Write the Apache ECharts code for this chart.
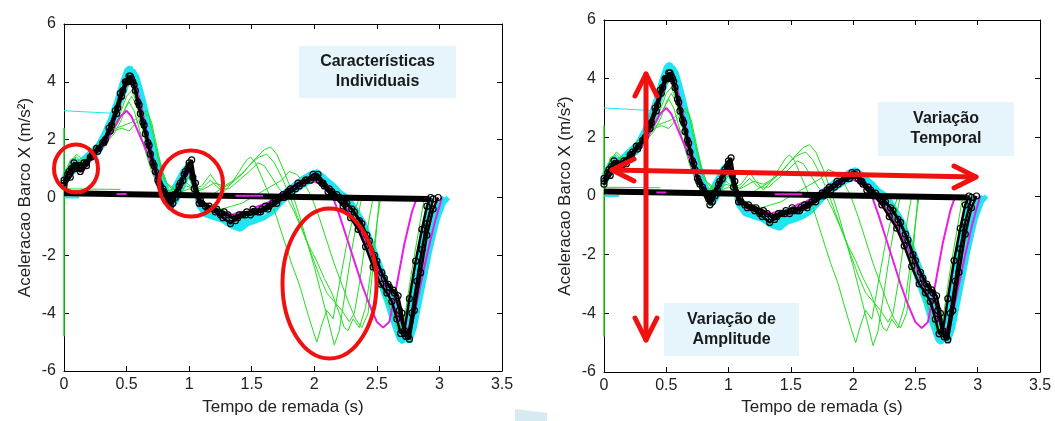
<!DOCTYPE html>
<html>
  <head>
    <title>aceleracao barco</title>
    <script src="https://cdn.jsdelivr.net/npm/echarts@6/dist/echarts.min.js"></script>
  </head>
  <body style="margin:0;background:#fff">
    <div id="main" style="width: 1055px; height: 421px"></div>
    <script>
      // ticks
      var xTicks = [0, 3.5, 0.5];
      var yTicks = [-6, 6, 2];

      // traces (tempo s, aceleracao m/s2)
      var cyan1 = [[0,0.6],[0.04,1.0],[0.08,1.3],[0.12,1.2],[0.17,1.4],[0.22,1.6],[0.27,1.8],[0.32,2.2],[0.37,2.7],[0.42,3.3],[0.46,3.9],[0.5,4.4],[0.53,4.5],[0.57,4.1],[0.61,3.4],[0.65,2.7],[0.69,2.0],[0.73,1.3],[0.77,0.7],[0.81,0.3],[0.85,0.1],[0.9,0.5],[0.95,0.9],[0.99,1.1],[1.03,0.6],[1.07,0.0],[1.12,-0.3],[1.18,-0.5],[1.25,-0.6],[1.32,-0.8],[1.38,-1.0],[1.44,-0.8],[1.5,-0.7],[1.56,-0.6],[1.62,-0.4],[1.68,-0.2],[1.74,0.1],[1.8,0.3],[1.86,0.5],[1.92,0.7],[1.98,0.8],[2.04,0.8],[2.1,0.6],[2.16,0.4],[2.22,0.1],[2.28,-0.3],[2.34,-0.8],[2.4,-1.4],[2.46,-2.1],[2.52,-2.9],[2.58,-3.6],[2.63,-4.3],[2.68,-4.9],[2.71,-5.0],[2.75,-4.2],[2.8,-3.0],[2.85,-1.7],[2.9,-0.6],[2.94,0.0]];
      var cyan2 = [[0,0.4],[0.05,0.8],[0.1,1.0],[0.15,1.1],[0.2,1.3],[0.26,1.5],[0.31,1.8],[0.36,2.2],[0.41,2.8],[0.46,3.4],[0.51,4.0],[0.55,4.4],[0.58,4.2],[0.62,3.6],[0.66,2.9],[0.7,2.1],[0.74,1.4],[0.78,0.8],[0.82,0.3],[0.86,-0.3],[0.9,-0.1],[0.95,0.4],[1.0,0.9],[1.04,0.4],[1.08,-0.3],[1.13,-0.6],[1.2,-0.7],[1.27,-0.8],[1.34,-1.0],[1.41,-1.1],[1.47,-0.9],[1.54,-0.8],[1.6,-0.7],[1.67,-0.5],[1.73,-0.2],[1.8,0.1],[1.87,0.3],[1.94,0.5],[2.0,0.6],[2.07,0.7],[2.13,0.5],[2.2,0.2],[2.27,0.0],[2.33,-0.4],[2.4,-0.9],[2.47,-1.7],[2.54,-2.5],[2.6,-3.2],[2.66,-3.9],[2.72,-4.7],[2.76,-5.0],[2.8,-4.5],[2.86,-3.2],[2.92,-1.9],[2.98,-0.8],[3.03,-0.2],[3.07,0.0]];
      var cyan3 = [[0,0.7],[0.05,1.1],[0.1,1.2],[0.16,1.3],[0.21,1.5],[0.26,1.7],[0.31,2.0],[0.36,2.4],[0.41,3.0],[0.45,3.6],[0.49,4.2],[0.52,4.5],[0.55,4.3],[0.59,3.7],[0.63,3.0],[0.67,2.2],[0.71,1.5],[0.75,0.9],[0.79,0.4],[0.83,0.0],[0.88,0.2],[0.93,0.6],[0.98,1.0],[1.02,0.9],[1.05,0.2],[1.1,-0.4],[1.16,-0.5],[1.23,-0.7],[1.3,-0.6],[1.37,-0.8],[1.43,-0.6],[1.5,-0.5],[1.57,-0.5],[1.63,-0.3],[1.7,-0.1],[1.77,0.2],[1.83,0.4],[1.9,0.6],[1.96,0.8],[2.02,0.9],[2.08,0.7],[2.14,0.3],[2.2,0.0],[2.26,-0.2],[2.32,-0.6],[2.38,-1.1],[2.44,-1.8],[2.5,-2.6],[2.56,-3.3],[2.62,-3.8],[2.68,-4.4],[2.73,-4.9],[2.77,-4.6],[2.82,-3.4],[2.88,-2.0],[2.94,-0.9],[3.0,-0.2],[3.04,0.0]];
      var cyanStart = [[0,3.0],[0.45,2.9]];
      var cyanBase = [[0,0.0],[0.12,0.0]];

      var green1 = [[0,0.5],[0.05,1.3],[0.1,1.4],[0.15,1.2],[0.2,1.5],[0.25,1.8],[0.3,2.0],[0.36,2.2],[0.42,2.4],[0.48,2.5],[0.54,2.6],[0.6,2.8],[0.66,3.0],[0.7,2.6],[0.74,1.8],[0.78,1.0],[0.82,0.5],[0.88,0.3],[0.94,0.2],[1.0,0.3],[1.06,0.2],[1.12,0.3],[1.2,0.5],[1.28,0.4],[1.36,0.6],[1.44,0.9],[1.52,1.3],[1.6,1.65],[1.65,1.75],[1.7,1.5],[1.76,0.9],[1.82,0.2],[1.88,-0.6],[1.94,-1.5],[2.0,-2.4],[2.06,-3.4],[2.12,-4.4],[2.16,-5.1],[2.2,-4.6],[2.25,-3.2],[2.3,-1.8],[2.35,-0.6],[2.38,0.0]];
      var green2 = [[0,0.6],[0.05,1.1],[0.1,1.2],[0.16,1.1],[0.22,1.4],[0.28,1.7],[0.34,2.0],[0.4,2.3],[0.46,2.4],[0.52,2.3],[0.58,2.6],[0.64,2.9],[0.68,2.8],[0.72,2.0],[0.76,1.2],[0.8,0.6],[0.86,0.3],[0.92,0.4],[0.98,0.5],[1.04,0.3],[1.1,0.4],[1.17,0.8],[1.22,0.5],[1.28,0.2],[1.34,0.5],[1.4,0.9],[1.46,1.3],[1.49,1.4],[1.53,1.2],[1.58,0.7],[1.64,0.1],[1.7,-0.7],[1.76,-1.5],[1.82,-2.3],[1.88,-3.0],[1.94,-3.9],[1.99,-4.6],[2.02,-5.0],[2.06,-4.4],[2.1,-3.9],[2.15,-4.2],[2.2,-3.0],[2.26,-1.6],[2.32,-0.5],[2.36,0.0]];
      var green3 = [[0,0.5],[0.06,1.0],[0.12,1.3],[0.18,1.2],[0.24,1.6],[0.3,1.9],[0.36,2.1],[0.42,2.5],[0.48,3.0],[0.52,3.3],[0.56,3.0],[0.6,2.4],[0.65,1.6],[0.7,0.9],[0.75,0.4],[0.8,0.2],[0.86,0.1],[0.92,0.2],[0.98,0.4],[1.04,0.3],[1.1,0.3],[1.17,0.6],[1.24,0.3],[1.32,0.3],[1.4,0.6],[1.48,0.9],[1.55,1.2],[1.6,1.1],[1.66,0.7],[1.72,0.3],[1.78,0.0],[1.84,-0.5],[1.9,-1.1],[1.96,-1.7],[2.02,-2.2],[2.08,-2.8],[2.14,-3.3],[2.2,-4.0],[2.24,-4.5],[2.27,-4.6],[2.31,-4.2],[2.36,-4.5],[2.41,-3.8],[2.46,-2.3],[2.5,-0.9],[2.53,0.0]];
      var green4 = [[0,0.7],[0.05,1.2],[0.1,1.5],[0.15,1.3],[0.2,1.4],[0.26,1.7],[0.32,1.9],[0.38,2.3],[0.44,2.8],[0.5,3.5],[0.54,3.7],[0.58,3.3],[0.62,2.6],[0.66,1.8],[0.7,1.1],[0.74,0.6],[0.79,0.3],[0.85,0.0],[0.9,0.2],[0.96,0.6],[1.0,0.7],[1.04,0.3],[1.1,-0.1],[1.18,-0.3],[1.26,-0.4],[1.34,-0.3],[1.42,-0.2],[1.5,0.0],[1.58,0.2],[1.66,0.4],[1.74,0.6],[1.8,0.9],[1.86,0.8],[1.92,0.5],[1.98,0.0],[2.04,-0.7],[2.1,-1.5],[2.16,-2.3],[2.22,-3.0],[2.28,-3.7],[2.33,-4.2],[2.38,-4.5],[2.43,-4.0],[2.47,-2.4],[2.5,-1.0],[2.52,0.0]];
      var green5 = [[0,0.6],[0.05,1.0],[0.1,1.1],[0.16,1.0],[0.22,1.3],[0.28,1.6],[0.34,1.9],[0.4,2.2],[0.46,2.7],[0.5,3.2],[0.54,3.5],[0.58,3.2],[0.62,2.5],[0.66,1.8],[0.7,1.2],[0.74,0.7],[0.78,0.3],[0.84,0.1],[0.9,0.3],[0.96,0.8],[1.0,1.0],[1.04,0.4],[1.1,0.0],[1.18,0.1],[1.26,0.3],[1.34,0.5],[1.42,0.8],[1.5,1.2],[1.56,1.4],[1.62,1.5],[1.68,1.2],[1.74,0.7],[1.8,0.1],[1.86,-0.6],[1.92,-1.3],[1.98,-2.0],[2.04,-2.7],[2.1,-3.3],[2.16,-3.6],[2.22,-3.9],[2.28,-4.3],[2.32,-4.0],[2.36,-3.0],[2.4,-1.8],[2.44,-0.7],[2.47,0.0]];
      var green6 = [[0,0.5],[0.1,1.2],[0.2,1.3],[0.3,1.9],[0.4,2.7],[0.5,3.8],[0.54,4.0],[0.6,3.0],[0.7,1.3],[0.8,0.2],[0.9,0.3],[1.0,0.9],[1.08,-0.2],[1.2,-0.5],[1.35,-0.6],[1.5,-0.5],[1.65,-0.3],[1.8,0.2],[1.95,0.6],[2.05,0.6],[2.15,0.2],[2.25,-0.2],[2.35,-0.9],[2.45,-2.0],[2.55,-3.2],[2.62,-4.0],[2.67,-4.6],[2.72,-4.2],[2.78,-2.5],[2.84,-1.0],[2.88,0.0]];
      var greenFlat = [[0,0.3],[0.45,0.28]];
      var greenEdge = [[0,2.4],[0,-4.8]];

      var magenta1 = [[0,0.5],[0.05,0.8],[0.1,1.0],[0.15,0.9],[0.2,1.2],[0.25,1.5],[0.3,1.7],[0.35,2.0],[0.4,2.4],[0.45,2.8],[0.5,3.0],[0.54,2.8],[0.58,2.4],[0.62,2.0],[0.66,1.6],[0.7,1.1],[0.74,0.6],[0.78,0.3],[0.82,0.1],[0.86,0.0],[0.9,0.3],[0.95,0.6],[1.0,0.9],[1.04,0.4],[1.08,0.0],[1.14,-0.3],[1.2,-0.4],[1.27,-0.5],[1.34,-0.6],[1.41,-0.5],[1.48,-0.5],[1.55,-0.3],[1.62,-0.2],[1.69,0.0],[1.76,0.2],[1.83,0.4],[1.9,0.5],[1.97,0.6],[2.03,0.5],[2.09,0.3],[2.15,0.0],[2.2,-0.6],[2.26,-1.4],[2.32,-2.2],[2.38,-3.0],[2.44,-3.7],[2.5,-4.3],[2.55,-4.5],[2.6,-4.3],[2.66,-3.0],[2.72,-1.6],[2.78,-0.5],[2.82,0.0]];
      var magenta2 = [[0,0.5],[0.05,0.9],[0.1,1.1],[0.15,1.2],[0.2,1.3],[0.25,1.6],[0.3,1.8],[0.35,2.2],[0.4,2.7],[0.45,3.3],[0.5,3.9],[0.54,4.1],[0.58,3.8],[0.62,3.1],[0.66,2.3],[0.7,1.6],[0.74,0.9],[0.78,0.4],[0.82,0.1],[0.87,0.0],[0.92,0.4],[0.96,0.8],[1.0,1.0],[1.04,0.5],[1.08,0.0],[1.14,-0.3],[1.2,-0.5],[1.27,-0.6],[1.34,-0.7],[1.41,-0.6],[1.48,-0.5],[1.55,-0.4],[1.62,-0.3],[1.69,-0.1],[1.76,0.1],[1.83,0.3],[1.9,0.4],[1.97,0.6],[2.03,0.7],[2.09,0.5],[2.15,0.2],[2.21,-0.1],[2.28,-0.5],[2.35,-1.0],[2.42,-1.6],[2.49,-2.3],[2.56,-3.0],[2.62,-3.6],[2.68,-4.2],[2.73,-4.6],[2.78,-4.4],[2.84,-3.2],[2.9,-2.0],[2.96,-0.9],[3.02,0.0]];
      var magentaDash1 = [[0.42,0.12],[0.5,0.12]];
      var magentaDash2 = [[1.37,0.06],[1.59,0.06]];

      var black1 = [[0,0.5],[0.03,0.8],[0.06,1.0],[0.1,1.1],[0.14,1.0],[0.18,1.2],[0.22,1.4],[0.27,1.6],[0.32,1.9],[0.37,2.3],[0.42,2.9],[0.46,3.5],[0.5,4.0],[0.53,4.2],[0.56,3.9],[0.6,3.2],[0.64,2.5],[0.68,1.8],[0.72,1.1],[0.76,0.5],[0.8,0.2],[0.84,-0.1],[0.88,0.1],[0.92,0.4],[0.96,0.8],[1.0,1.2],[1.03,0.7],[1.06,0.1],[1.1,-0.2],[1.16,-0.3],[1.22,-0.4],[1.28,-0.5],[1.34,-0.7],[1.4,-0.6],[1.46,-0.5],[1.52,-0.5],[1.58,-0.4],[1.64,-0.3],[1.7,-0.2],[1.76,0.0],[1.82,0.2],[1.88,0.4],[1.94,0.6],[2.0,0.7],[2.04,0.6],[2.08,0.4],[2.14,0.2],[2.2,0.0],[2.26,-0.2],[2.32,-0.5],[2.38,-0.9],[2.44,-1.5],[2.5,-2.2],[2.56,-2.8],[2.6,-3.1],[2.64,-3.3],[2.68,-3.9],[2.72,-4.7],[2.75,-4.8],[2.78,-4.0],[2.82,-2.9],[2.86,-1.8],[2.9,-0.9],[2.95,-0.05]];
      var black2 = [[0,0.6],[0.04,0.9],[0.08,1.2],[0.12,1.1],[0.16,1.2],[0.21,1.4],[0.26,1.7],[0.31,1.9],[0.36,2.4],[0.41,3.0],[0.45,3.6],[0.49,4.0],[0.52,4.2],[0.55,4.0],[0.59,3.3],[0.63,2.6],[0.67,1.9],[0.71,1.2],[0.75,0.6],[0.79,0.3],[0.83,0.0],[0.87,-0.2],[0.91,0.2],[0.95,0.6],[0.99,1.0],[1.02,1.3],[1.05,0.5],[1.09,-0.1],[1.15,-0.4],[1.21,-0.5],[1.27,-0.7],[1.33,-0.9],[1.39,-0.7],[1.45,-0.6],[1.51,-0.4],[1.57,-0.5],[1.63,-0.4],[1.69,-0.1],[1.75,0.1],[1.81,0.3],[1.87,0.5],[1.93,0.6],[1.99,0.8],[2.03,0.8],[2.07,0.5],[2.12,0.3],[2.18,0.1],[2.24,-0.1],[2.3,-0.4],[2.36,-0.8],[2.42,-1.3],[2.48,-2.0],[2.54,-2.6],[2.59,-3.0],[2.63,-3.2],[2.67,-3.4],[2.7,-4.0],[2.73,-4.8],[2.76,-4.9],[2.8,-3.9],[2.85,-2.6],[2.9,-1.3],[2.95,-0.4],[2.99,0.0]];
      var black3 = [[0,0.4],[0.05,0.7],[0.09,1.0],[0.13,0.9],[0.18,1.1],[0.23,1.5],[0.28,1.7],[0.33,2.0],[0.38,2.5],[0.43,3.1],[0.47,3.7],[0.51,4.0],[0.54,4.1],[0.57,3.7],[0.61,2.9],[0.65,2.2],[0.69,1.5],[0.73,0.9],[0.77,0.4],[0.81,0.1],[0.85,-0.3],[0.89,0.0],[0.93,0.5],[0.97,0.9],[1.0,1.1],[1.04,0.3],[1.08,-0.2],[1.13,-0.3],[1.19,-0.4],[1.25,-0.6],[1.31,-0.6],[1.37,-0.8],[1.43,-0.6],[1.49,-0.6],[1.55,-0.5],[1.61,-0.3],[1.67,-0.2],[1.73,0.0],[1.79,0.2],[1.85,0.3],[1.91,0.5],[1.97,0.6],[2.02,0.7],[2.06,0.5],[2.11,0.2],[2.17,0.0],[2.23,-0.3],[2.29,-0.7],[2.35,-1.1],[2.41,-1.7],[2.47,-2.4],[2.53,-3.0],[2.58,-3.3],[2.62,-3.6],[2.66,-4.2],[2.69,-4.7],[2.72,-4.6],[2.76,-3.5],[2.81,-2.2],[2.86,-1.1],[2.9,-0.3],[2.93,0.0]];
      var blackBase = [[0,0.15],[2.92,-0.05]];

      var CYAN = '#1de6f2', GREEN = '#22dd22', MAGENTA = '#e81ee8', BLACK = '#000';

      var chartDom = document.getElementById('main');
      var myChart = echarts.init(chartDom);

      var grids = [
        { left: 64, top: 24, width: 438, height: 352 },
        { left: 604, top: 20, width: 436, height: 352 }
      ];

      var xAxes = [], yAxes = [], series = [];
      var font = { fontFamily: 'Liberation Sans, Arial', fontSize: 16, color: '#222' };
      var nameFont = { fontFamily: 'Liberation Sans, Arial', fontSize: 17, color: '#222' };

      grids.forEach(function (g, gi) {
        ['bottom', 'top'].forEach(function (pos) {
          xAxes.push({
            type: 'value', gridIndex: gi, position: pos,
            min: xTicks[0], max: xTicks[1], interval: xTicks[2],
            name: pos == 'bottom' ? 'Tempo de remada (s)' : '',
            nameLocation: 'middle', nameGap: gi == 0 ? 28 : 27,
            nameTextStyle: nameFont,
            axisLine: { show: true, onZero: false, lineStyle: { color: '#000', width: 1 } },
            axisTick: { show: true, inside: true, length: 5, lineStyle: { color: '#000' } },
            axisLabel: Object.assign({ show: pos == 'bottom', margin: 6, showMaxLabel: true }, font),
            splitLine: { show: false }
          });
        });
        ['left', 'right'].forEach(function (pos) {
          yAxes.push({
            type: 'value', gridIndex: gi, position: pos,
            min: yTicks[0], max: yTicks[1], interval: yTicks[2],
            name: pos == 'left' ? 'Aceleracao Barco X (m/s²)' : '',
            nameLocation: 'middle', nameGap: 30, nameRotate: 90,
            nameTextStyle: nameFont,
            axisLine: { show: true, onZero: false, lineStyle: { color: '#000', width: 1 } },
            axisTick: { show: true, inside: true, length: 5, lineStyle: { color: '#000' } },
            axisLabel: Object.assign({ show: pos == 'left', margin: 8 }, font),
            splitLine: { show: false }
          });
        });
      });

      function addLine(gi, data, color, width, markers) {
        series.push({
          type: 'line', xAxisIndex: gi * 2, yAxisIndex: gi * 2,
          data: data, silent: true,
          showSymbol: !!markers, symbol: 'circle', symbolSize: 6,
          lineStyle: { color: color, width: width },
          itemStyle: { color: 'rgba(0,0,0,0)', borderColor: color, borderWidth: 1.2 }
        });
      }

      for (var gi = 0; gi < 2; gi++) {
        addLine(gi, cyanStart, CYAN, 1);
        addLine(gi, cyanBase, CYAN, 2);
        [cyan1, cyan2, cyan3].forEach(function (d) { addLine(gi, d, CYAN, 5); });
        [green1, green2, green3, green4, green5, green6].forEach(function (d) { addLine(gi, d, GREEN, 1); });
        addLine(gi, greenFlat, GREEN, 1);
        addLine(gi, greenEdge, GREEN, 1.5);
        [magenta1, magenta2].forEach(function (d) { addLine(gi, d, MAGENTA, 2); });
        [black1, black2, black3].forEach(function (d) { addLine(gi, d, BLACK, 2.5, true); });
        addLine(gi, blackBase, BLACK, 6);
        addLine(gi, magentaDash1, MAGENTA, 2);
        addLine(gi, magentaDash2, MAGENTA, 2);
      }

      var RED = '#f01010';
      function chevron(points) {
        return { type: 'polyline', shape: { points: points }, style: { stroke: RED, lineWidth: 5, fill: null, lineCap: 'round', lineJoin: 'round' }, z: 100 };
      }
      function box(x, y, w, h, txt) {
        return [
          { type: 'rect', shape: { x: x, y: y, width: w, height: h }, style: { fill: '#e5f5fb' }, z: 90 },
          { type: 'text', x: x + w / 2, y: y + h / 2, z: 91,
            style: { text: txt, fill: '#1a1a1a', font: 'bold 16px "Liberation Sans", Arial', align: 'center', verticalAlign: 'middle', lineHeight: 20 } }
        ];
      }

      var graphics = [].concat(
        box(299, 46, 157, 52, 'Características\nIndividuais'),
        box(878, 102, 136, 54, 'Variação\nTemporal'),
        box(664, 303, 135, 53, 'Variação de\nAmplitude'),
        [
          { type: 'ellipse', shape: { cx: 76, cy: 168.5, rx: 22, ry: 24 }, style: { stroke: RED, lineWidth: 4, fill: null }, z: 100 },
          { type: 'ellipse', shape: { cx: 191, cy: 183.5, rx: 32, ry: 33 }, style: { stroke: RED, lineWidth: 4, fill: null }, z: 100 },
          { type: 'ellipse', shape: { cx: 329.5, cy: 283.5, rx: 47, ry: 75 }, style: { stroke: RED, lineWidth: 4, fill: null }, z: 100 },
          // vertical arrow
          chevron([[646, 74], [646, 340]]),
          chevron([[635, 96], [646, 74], [657, 96]]),
          chevron([[635, 318], [646, 340], [657, 318]]),
          // horizontal arrow
          chevron([[612, 170], [976, 177]]),
          chevron([[634, 159], [612, 170], [634, 181]]),
          chevron([[954, 166], [976, 177], [954, 188]]),
          { type: 'polygon', shape: { points: [[515, 409], [547, 413], [547, 421], [515, 421]] }, style: { fill: '#d6eaf2' }, z: 1 }
        ]
      );

      var option = {
        animation: false,
        backgroundColor: '#fff',
        grid: grids,
        xAxis: xAxes,
        yAxis: yAxes,
        series: series,
        graphic: graphics
      };

      option && myChart.setOption(option);
    </script>
  </body>
</html>
